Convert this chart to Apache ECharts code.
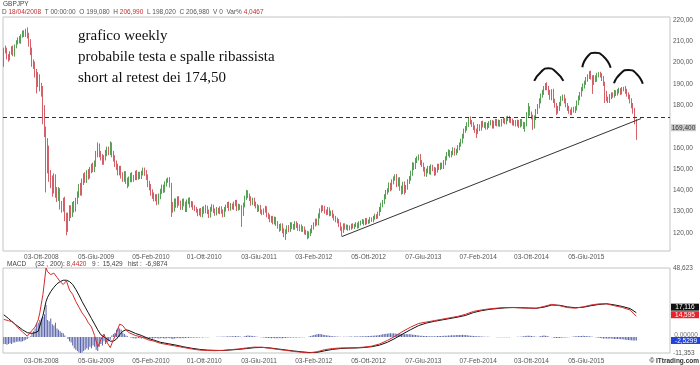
<!DOCTYPE html>
<html><head><meta charset="utf-8">
<script src="https://cdn.jsdelivr.net/npm/echarts@6/dist/echarts.min.js"></script>
<style>html,body{margin:0;padding:0;background:#fff}#c{width:700px;height:365px}</style>
</head><body><div id="c"></div>
<script>
// ---------- DATA ----------
const symbolName = 'GBPJPY';
const startDate = [2008, 3, 18]; // first weekly bar 18/04/2008
const firstOpen = 199.08;
const closes = [
206.98,205.5,203,202,204.5,206.5,204,207.5,209.5,211,210,212.5,214,213,215,212.5,209,205,200,198.5,
195,190.5,193,188.5,186,176,168,150,158,147,144,141,145,139.5,137,139,133,132,134.5,128,
122,127.5,131,129,133,131.5,135,138,141.5,139,144,146.5,145,148,147,149.5,151,150,152.5,157,
160,157,155.5,153.5,155,157.5,159,158,161,157,155,152.5,151,148.5,150,147,145.5,147.5,144.5,143,
145,147,145,146,148,146,147.5,146.5,148,149.5,148,146,143,141.5,139,137.5,136,137,134.5,137,
139.5,141.5,140,143,144.5,145,142.5,133,131.5,135,133,136,134,132,135,133.5,131,134.5,135.5,133,
134,132,131,130.5,129,130.5,128.5,131.5,130,132,130,128,131,132.5,130.5,129,131,130,131.5,130,
128.5,131,132.5,133.5,131.5,133,132,133.5,134.5,131.5,132.5,132,129,133,136.5,139,137.5,136,134,135.5,
133.5,132.5,131,132,130,129.5,130.5,131.5,128.5,127.5,126,127,125,126.5,124.5,123,122,123.5,121,119.5,
120.5,122.5,121.5,124,123,122.5,124.5,123.5,122,123,121.5,122,120.5,120,118.5,119.5,121,122.5,124,125.5,
124.5,128,130.5,132,131.5,130,129.5,131,129,129.5,128,127,126,125.5,124,122,121,123.5,122.5,123,
122,122.5,123.5,122.8,123.5,124,123,124.5,125,125.5,124.5,126,125,125.5,126.5,126,127,128,127.5,129,
131,133,134.5,137,139,140,142.5,141,144,145.5,146.5,143,145,141,139.5,143,140,141.5,144,145.5,
148,152,151,154,155,156,153,152,150,147.5,149,150.5,148.5,151,150,148,149.5,151.5,150.5,152,
151,153,155,157,158,156.5,157.5,159,157.5,158.5,160,161.5,163,165.5,168,169,171,173.5,172,171,
169.5,168,167.5,170,169,171.5,170.5,171,169.5,170.5,171.5,172,170,171.5,172.5,171,172,171,172.5,173,
172,173.5,174,173,172.5,171.5,172,171,172,170.5,172.5,171,170,171,175.5,178.5,176,174.5,170,174,
177,179.5,182,184.5,186,188,189.5,188,186,183.5,186.5,182,180,177,178.5,180.5,183,184,182,180,
178.5,177,176.5,178,177.5,178.5,181,183.5,185,187.5,189,190.5,192,193.5,195,193,190.5,193,192,194,
194.5,194,192.5,190,185.5,183,182,184,185,184.5,186,185.5,186.5,187,186,187.5,188,186.5,185,184,
182,180,177.5,173,169.4
];
const wickUp = [
.01,1,1.5,1,.8,1.2,1.5,1,1,.8,1.5,.8,1,1.2,.9,1.5,1.5,2,2,1.5,
2,2,2.5,1.5,2,3,4,2,6.5,3,2.5,3,3,2.5,2,2.5,2,2,2,2.5,
1.5,2,2,2,1.5,2,1.5,1.5,1.5,2,1.5,1.5,2,1.5,2,1.5,1.5,2,1.5,1.5,
2.5,2,1.5,1.5,1.5,1.5,1.5,1.5,2,1.5,1.5,1.5,1.5,1.5,1.5,1.5,1.5,1.5,1.5,1.5,
1.5,1.2,1.5,1.2,1.2,1.5,1.2,1.2,1.2,1.2,1.2,1.5,1.5,1.5,1.5,1.5,1.5,1.2,1.2,1.5,
1.2,1.2,1.2,1.2,1,1,1.2,1,1.5,1.2,1.2,1.2,1.2,1.2,1,1.2,1.2,1.2,1,1.2,
1,.8,1,1.2,.8,1,1.2,.8,1,1.2,.8,1,1.2,1,.8,1,1.2,.8,1,1,
1,1.2,.8,1,1.2,1,.8,1.2,1,1,1.2,1,1,1.2,1,1.2,1,1,1.2,1,
1,1.2,1,1,1.2,1,1,1.2,1,1,1.2,1,1,1.2,1,1,1.2,1,1,1.2,
1.2,1,1.2,1,1,1.2,1,1,1.2,1,1,1.2,1,1,1,1.2,1,1.2,1,1.2,
1.2,1.2,1,1,1,1.2,1,1.2,1,1,1.2,1,1,1.2,1,1,1,1,1,1,
.8,1,.8,1,.8,1,.8,1,.8,1,.8,1,1,.8,1,.8,1,1,.8,1,
1.2,1.2,1,1.2,1.2,1,1.2,1,1.2,1,1,1.2,1,1.2,1.2,1,1.2,1,1.2,1.2,
1.2,1.2,1,1.2,1,.8,1,1.2,1,1,1.2,1,1,1.2,1,1,1.2,1,1,1,
1,1.2,1,1,1.2,1,1,1.2,1,1,1.2,1,1.2,1,1,1.2,1,1,1.2,1,
1,1,1,1.2,1,1,1.2,1,1,1.2,1,1,1,1.2,1,1,1.2,1,1,1,
1,1.2,1,1,1,1.2,1,1,1.2,1,1,1,1.2,1,1.2,2.5,1,1,1,1.2,
1.2,1,1.2,1,1.2,1,.9,1.2,1,1.2,1,1.2,1,1,1.2,1,1.2,1,1,1.2,
1,1.2,1,1,1.2,1,1.2,1,1.2,1,1.2,1,1.2,1,1,1.2,1,1.2,1,1.2,
1,1.2,1,1.2,1,1.2,1,1.2,1,1,1.2,1,1,1.2,1,1,.6,1,1.2,1,
1,1.2,1,1.2,.5
];
const wickDn = [
1.06,1.2,1.5,1.6,1,.8,1,1.2,.8,1,1,1.2,.8,1,1,1.2,1.5,1.5,2,1.5,
2,5,2,2,2,5,3,11,2,3,3,4,2.5,3,2.5,2,2,2.5,2,2.5,
3.1,1.5,2,2,1.5,2,1.5,1.5,1.5,1.5,1.5,1.5,1.5,1.5,2,1.5,1.5,1.5,1.5,1.5,
1.5,1.5,1.5,1.5,1.5,1,1.5,1.5,1.5,1.5,1.5,1.5,1.5,1.5,1.5,1.5,1.5,1.5,1.5,2,
1.2,1.2,1.2,1,1.2,1.2,1,1.2,1.2,1,1.2,1.2,1.5,1.5,1.5,1.5,1.2,1.2,1.5,1.2,
1.2,1.2,1.2,1,1.2,1,1.2,5.5,2,1.5,1.2,1.2,1.2,1.2,1.2,1,1.2,1.2,1,1.2,
1,1.2,.8,1,1.2,.8,1,1.2,1,.8,1.2,1,.8,1,1.2,1,.8,1,1.2,1,
1.2,1,1,.8,1.2,1,1,1.2,1,1.2,1,1.2,6.2,1,1,1,1.2,1,1.2,1,
1,1,1.2,1,1,1.2,1,1,1.2,1,1,1.2,1,1,1.2,1,1.5,1,1.2,1.5,
2.8,1,1.2,1,1.2,1,1,1.2,1,1.2,1,1,1.2,1,1.5,1,1,1.2,1,1,
1,1,1.2,1,1.2,1,1.2,1,1.2,1,1,1.2,1,1,1.2,1,2.7,1,1,1,
1,.8,1,.8,1,.8,1,.8,1,.8,1,.8,1,.8,1,.8,1,.8,1,.8,
1,1.2,1,1,1.2,1,1,1.5,1,1.2,1,1.5,1.2,1.2,1.5,1.2,2,1.2,1.2,1,
1,1.2,1.5,1,1.2,1,1.2,1,1.2,1,1.2,1,1,1.2,1,1.2,1,1.2,1,1,
1,1,1.2,1,1,1.2,1,1,1.2,1,1,1.2,1,1,1.2,1,1,1.2,1,1.2,
1.2,1,2.9,1,1.2,1,1,1.2,1,1,1.2,1,1,1,1.2,1,1,1.2,1,1,
1,1,1,1.2,1,1,1.2,1,1,1.2,1,1,1.2,2.5,1,1.2,1,1.2,1.6,1,
1,1.2,1,1.2,1,1.2,1,1,1.2,1,1.2,1,1.2,1.6,1,1.2,1,1,1.2,1,
1.2,1,1.1,1.2,1,1.2,1,1,1.2,1,1,1.2,1,1,1.2,1,5.2,1,1.2,1,
1,1,1.2,1,4.5,1.2,1,1,1.2,1,1,1.2,1,1,1.2,1,1,1.2,1,1.2,
1.2,1.5,1.5,2,5.7
];
const tickLabels = ['03-Ott-2008','05-Giu-2009','05-Feb-2010','01-Ott-2010','03-Giu-2011','03-Feb-2012','05-Ott-2012','07-Giu-2013','07-Feb-2014','03-Ott-2014','05-Giu-2015'];
const priceTicks = [120,130,140,150,160,180,190,200,210,220];
const lastPrice = 169.4;
const neckline = 174.5;
const trendX = [216, 407];
const trendY = [118.3, 173.7];
const arcX = [[338.8,343.1,347.8,352.7,357.4],[369.5,373.1,377.6,382.7,387.6],[389.7,394.3,398.9,403.9,408.1]];
const arcY = [[191.4,195.6,197.3,195.6,191.4],[197.8,203.1,204.6,203.1,197.6],[190.3,195.1,196.5,194.9,190.0]];
const notes = ['grafico weekly','probabile testa e spalle ribassista','short al retest dei 174,50'];

const macdX = [0,3,6,9,12,15,18,20,22,23,25,27,28,30,32,34,36,38,40,42,44,46,48,50,52,54,56,58,60,62,64,66,68,70,72,74,76,78,80,84,88,92,96,100,105,110,115,120,125,130,135,140,145,150,155,160,165,170,175,180,185,190,195,200,205,210,215,220,225,230,235,240,245,250,255,260,265,270,275,280,285,290,295,300,305,310,315,320,325,330,335,340,345,350,355,360,365,370,375,380,385,390,395,400,404];
const macdY = [12.3,11.5,10.5,6.5,3.5,0.5,4.5,7,12,17,
30,48.6,46,44,45,42,39,37,39.5,33,
30,25,21,17,14,10,7,1,-7,-2,
2,-4,-7.5,-2,3,9,8,5,3,1,
0,-2,-3,-4.5,-5.5,-6.5,-7.5,-8.5,-9.3,-9.6,
-9.7,-9.5,-9,-8.5,-7.8,-7.2,-7.3,-8,-8.8,-9.5,
-10.2,-10.8,-11.35,-10.5,-9,-8.2,-7.8,-7.8,-7.6,-7.2,
-6.5,-5,-2.5,0.5,4,7,9.5,10.5,11.5,12.5,
13.5,14.5,16,18,19,19.8,20.3,20.7,20.8,20.5,
20.3,20.2,21.5,23,22,20.7,20.3,21.2,22.5,23.3,
23.3,22,20.8,19,14.6];
const signalY = [15.6,13,10,7.5,5,3,2.5,3,4,5,
15,25,28,32,35,37.5,39,40,40,39,
37,33.5,29.5,25,21,17,13,9,5,1.5,
0,-1.5,-3,-3,-1.5,1.5,4,5,4.5,2.5,
1,-1,-2.3,-3.8,-4.8,-5.8,-7,-8,-8.8,-9.3,
-9.5,-9.6,-9.2,-8.8,-8.2,-7.6,-7.4,-7.8,-8.5,-9.2,
-9.9,-10.5,-11,-10.9,-9.8,-8.8,-8.2,-7.9,-7.8,-7.5,
-6.9,-5.8,-3.8,-1,2.2,5.2,8,9.8,11,12,
13,14,15.2,17.2,18.5,19.4,20,20.5,20.7,20.6,
20.4,20.2,21,22.5,22.3,21.2,20.6,20.9,22,22.9,
23.4,22.6,21.5,20,17.1];
const hist = [
-5,-5,-5.5,-5,-4.5,-5,-4,-4,-3.5,-3.5,-3,-3.5,-3,-2.5,-2,-1.5,-.5,.5,2,4,
6,9,10,12,13,14,16,22.6,12,11,13,9,8,10,6,5,4,3,2.5,1,
0,-1.5,-3,-4,-6,-8,-9,-10,-11,-12,-11,-10,-9,-8,-9,-7,-8,-6,-7,-9,
-10,-7,-5,-6,-3,-5,-4,-3,-2,1,2,3,5,6.5,6,5,3,2,1,.5,
0,-.5,-.8,-1,-1.2,-1,-.8,-1,-1.2,-1,-.8,-1,-1.2,-1,-1,-1.2,-1,-.8,-1,-1.2,
-1,-.8,-1,-1.2,-1,-.8,-1,-1.2,-1.5,-1.2,-1,-.8,-1,-1,-.8,-1,-.8,-.6,-.8,-.6,
-.5,-.6,-.5,-.4,-.5,-.4,-.3,-.4,-.3,-.2,-.3,-.2,-.1,0,-.1,0,.1,.2,.1,.2,
.3,.2,.3,.4,.3,.5,.4,.5,.6,.5,.4,.3,-.2,.2,.6,.8,1,.9,.8,.6,
.5,.3,.2,0,-.2,-.3,-.5,-.6,-.7,-.8,-.8,-.9,-.8,-.9,-1,-.9,-.8,-.9,-1,-.8,
-.7,-.6,-.5,-.6,-.5,-.4,-.5,-.4,-.3,-.4,-.3,-.2,-.2,-.1,0,.3,.6,1,1.3,1.6,
1.8,2,2,1.8,1.6,1.4,1.2,1,.8,.7,.5,.4,.3,.3,.2,.1,0,.1,.2,.2,
.2,.3,.3,.2,.3,.4,.3,.3,.4,.4,.5,.5,.6,.6,.7,.8,.8,1,1,1.2,
1.4,1.6,1.8,2,2.2,2.3,2.5,2.5,2.4,2.5,2.4,2.2,2.3,2,2.1,2,1.8,2,1.9,1.8,
1.8,1.6,1.5,1.3,1.2,1,.9,.8,.7,.6,.6,.5,.5,.4,.4,.5,.5,.6,.6,.7,
.7,.8,.8,.9,1,1,1.1,1.2,1.2,1.3,1.3,1.4,1.4,1.5,1.4,1.3,1.2,1,.9,.8,
.7,.6,.5,.5,.4,.3,.3,.2,.2,.1,.1,0,0,-.1,-.1,-.2,-.2,-.3,-.2,-.2,
-.3,-.3,-.2,-.2,-.1,-.1,0,0,.1,.1,.2,.3,.5,.6,.8,.9,.8,.6,.5,.3,
.1,0,.3,.6,.9,1,.8,.6,.3,0,-.3,-.5,-.7,-.8,-.8,-.7,-.6,-.5,-.5,-.4,
-.3,-.2,0,.2,.3,.4,.5,.6,.7,.7,.8,.7,.6,.5,.4,.3,.2,0,-.2,-.4,
-.6,-.8,-1,-1.1,-1.2,-1.2,-1.3,-1.2,-1.2,-1.3,-1.4,-1.4,-1.5,-1.5,-1.6,-1.7,-1.8,-2,-2.1,-2.2,
-2.3,-2.4,-2.5,-2.5,-2.53
];
const macdLast = 14.595, signalLast = 17.116, histLast = -2.5299;
const macdMax = 48.623, macdMin = -11.353;
const macdHeader = ['MACD','(32 , 200):','8,4420','9 :  15,429','hist :  -6,9874'];
const headerVals = {D:'18/04/2008',T:'00:00:00',O:'199,080',H:'206,990',L:'198,020',C:'206,980',V:'0','Var%':'4,0467'};

// ---------- BUILD ----------
if (wickUp.length !== closes.length || wickDn.length !== closes.length || hist.length !== closes.length || macdY.length !== macdX.length || signalY.length !== macdX.length) {
  throw new Error('length mismatch c'+closes.length+' u'+wickUp.length+' d'+wickDn.length+' h'+hist.length+' mx'+macdX.length+' my'+macdY.length+' sy'+signalY.length);
}
const NCAT = 426;
const MONTHS = ['Gen','Feb','Mar','Apr','Mag','Giu','Lug','Ago','Set','Ott','Nov','Dic'];
const categories = [];
const t0 = Date.UTC(startDate[0], startDate[1], startDate[2]);
for (let i = 0; i < NCAT; i++) {
  const d = new Date(t0 + i * 7 * 86400000);
  categories.push(String(d.getUTCDate()).padStart(2,'0') + '-' + MONTHS[d.getUTCMonth()] + '-' + d.getUTCFullYear());
}
const candles = closes.map((c, i) => {
  const o = i ? closes[i-1] : firstOpen;
  return [o, c, Math.min(o,c) - wickDn[i], Math.max(o,c) + wickUp[i]];
});
const fmt = (v, d) => v.toFixed(d).replace('.', ',');
const FONT = 'Liberation Sans';
const small = { fontSize: 6.5, color: '#555', fontFamily: FONT };

const catAxis = (g, m) => ({
  type: 'category', gridIndex: g, data: categories, boundaryGap: true,
  axisLine: { show: false }, axisTick: { show: false }, splitLine: { show: false },
  axisLabel: Object.assign({ interval: (i, v) => tickLabels.indexOf(v) >= 0, margin: m, hideOverlap: false }, small)
});
const valX = (g) => ({ type: 'value', gridIndex: g, min: -0.5, max: NCAT - 0.5, show: false });

const chart = echarts.init(document.getElementById('c'), null, { renderer: 'canvas' });

const series = [
  {
    type: 'candlestick', xAxisIndex: 0, yAxisIndex: 0, data: candles, barWidth: 1,
    itemStyle: { color: '#55a055', color0: '#d4606a', borderColor: '#55a055', borderColor0: '#d4606a', borderWidth: 1 },
    markLine: {
      silent: true, symbol: ['none','none'], animation: false,
      data: [
        { yAxis: neckline, lineStyle: { type: [4,3], color: '#333', width: 1 }, label: { show: false } }
      ]
    }
  },
  {
    type: 'line', xAxisIndex: 1, yAxisIndex: 0, data: trendX.map((x, i) => [x, trendY[i]]),
    symbol: 'none', lineStyle: { color: '#333', width: 1 }, silent: true
  }
];
arcX.forEach((xs, k) => series.push({
  type: 'line', xAxisIndex: 1, yAxisIndex: 0, smooth: 0.6, symbol: 'none', silent: true,
  data: xs.map((x, i) => [x, arcY[k][i]]), lineStyle: { color: '#111', width: 2 }
}));
series.push({
  type: 'bar', xAxisIndex: 2, yAxisIndex: 1, data: hist, barWidth: 1,
  itemStyle: { color: '#5862a8' }, silent: true
});
series.push({
  type: 'line', xAxisIndex: 3, yAxisIndex: 1, data: macdX.map((x, i) => [x, signalY[i]]),
  symbol: 'none', lineStyle: { color: '#111', width: 1 }, silent: true
});
series.push({
  type: 'line', xAxisIndex: 3, yAxisIndex: 1, data: macdX.map((x, i) => [x, macdY[i]]),
  symbol: 'none', lineStyle: { color: '#d42a2a', width: 1 }, silent: true
});

const hv = headerVals;
const headerRich = '{g|D }{r|' + hv.D + '}{g|  T }{g|' + hv.T + '}{g|  O }{g|' + hv.O + '}{g|  H }{r|' + hv.H +
  '}{g|  L }{g|' + hv.L + '}{g|  C }{g|' + hv.C + '}{g|  V }{g|' + hv.V + '}{g|  Var% }{r|' + hv['Var%'] + '}';
const macdRich = '{g|' + macdHeader[0] + '}{g|     ' + macdHeader[1] + ' }{r|' + macdHeader[2] + '}{g|   ' + macdHeader[3] + '   }{g|' + macdHeader[4] + '}';

const baseGraphic = [
  { type: 'text', x: 3, y: 4.5, style: { text: symbolName, font: '6.5px "Liberation Sans"', fill: '#444', verticalAlign: 'middle', textVerticalAlign: 'middle' } },
  { type: 'text', x: 2, y: 12, style: { text: headerRich, font: '6.5px "Liberation Sans"', verticalAlign: 'middle', textVerticalAlign: 'middle',
      rich: { g: { fill: '#555', fontSize: 6.5, fontFamily: FONT, color: '#555' }, r: { fill: '#c03030', color: '#c03030', fontSize: 6.5, fontFamily: FONT } } } },
  { type: 'text', x: 7, y: 264.5, style: { text: macdRich, font: '6.5px "Liberation Sans"', verticalAlign: 'middle', textVerticalAlign: 'middle',
      rich: { g: { fill: '#444', color: '#444', fontSize: 6.5, fontFamily: FONT }, r: { fill: '#c03030', color: '#c03030', fontSize: 6.5, fontFamily: FONT } } } },
  { type: 'text', x: 699, y: 361.5, style: { text: '\u00A9 ITtrading.com', font: 'bold 6.5px "Liberation Sans"', fill: '#333', align: 'right', textAlign: 'right', verticalAlign: 'middle', textVerticalAlign: 'middle' } }
];
notes.forEach((t, i) => baseGraphic.push({
  type: 'text', x: 78, y: 36 + i * 21,
  style: { text: t, font: '15px "Liberation Serif"', fill: '#111', verticalAlign: 'middle', textVerticalAlign: 'middle' }
}));

chart.setOption({
  animation: false,
  backgroundColor: '#fff',
  textStyle: { fontFamily: FONT },
  grid: [
    { left: 3, right: 30, top: 17, height: 234, show: true, borderColor: '#c4c4c4', borderWidth: 1 },
    { left: 3, right: 30, top: 268, height: 86, show: true, borderColor: '#c4c4c4', borderWidth: 1 }
  ],
  xAxis: [catAxis(0, 3), valX(0), catAxis(1, 5), valX(1)],
  yAxis: [
    { type: 'value', gridIndex: 0, position: 'right', min: 111.5, max: 221.4, scale: true,
      splitLine: { show: false }, axisLine: { show: false }, axisTick: { show: false },
      axisLabel: Object.assign({ customValues: priceTicks, formatter: v => fmt(v, 2), margin: 3 }, small) },
    { type: 'value', gridIndex: 1, position: 'right', min: macdMin, max: macdMax, scale: true,
      splitLine: { show: false }, axisLine: { show: false }, axisTick: { show: false },
      axisLabel: Object.assign({ customValues: [macdMin, macdMax], formatter: v => fmt(v, 3), margin: 3 }, small) }
  ],
  graphic: baseGraphic,
  series: series
});

// value tags on the right edge, positioned through the chart's own scales
const tags = [
  { grid: 0, v: lastPrice, text: fmt(lastPrice, 3), bg: '#c8c8c8', fg: '#333', dy: 0, w: 25 },
  { grid: 1, v: 0, text: '0,00000', bg: null, fg: '#777', dy: -2.5, w: 30 },
  { grid: 1, v: histLast, text: fmt(histLast, 4), bg: '#2244dd', fg: '#fff', dy: 0, w: 30 },
  { grid: 1, v: signalLast, text: fmt(signalLast, 3), bg: '#111', fg: '#fff', dy: -5.5, w: 28 },
  { grid: 1, v: macdLast, text: fmt(macdLast, 3), bg: '#e8222a', fg: '#fff', dy: -1.5, w: 28 }
];
const tagGraphic = tags.map(t => {
  const p = chart.convertToPixel({ xAxisIndex: t.grid === 0 ? 1 : 3, yAxisIndex: t.grid }, [NCAT - 0.5, t.v]);
  const y = p[1] + t.dy;
  return {
    type: 'group', x: p[0] + 1, y: y,
    children: [
      { type: 'rect', shape: { x: 0, y: -3.5, width: t.w, height: 7 }, style: { fill: t.bg || 'rgba(0,0,0,0)' } },
      { type: 'text', x: t.w / 2, y: 0.3, style: { text: t.text, font: '6.5px "Liberation Sans"', fill: t.fg, align: 'center', textAlign: 'center', verticalAlign: 'middle', textVerticalAlign: 'middle' } }
    ]
  };
});
chart.setOption({ graphic: baseGraphic.concat(tagGraphic) });
</script></body></html>
